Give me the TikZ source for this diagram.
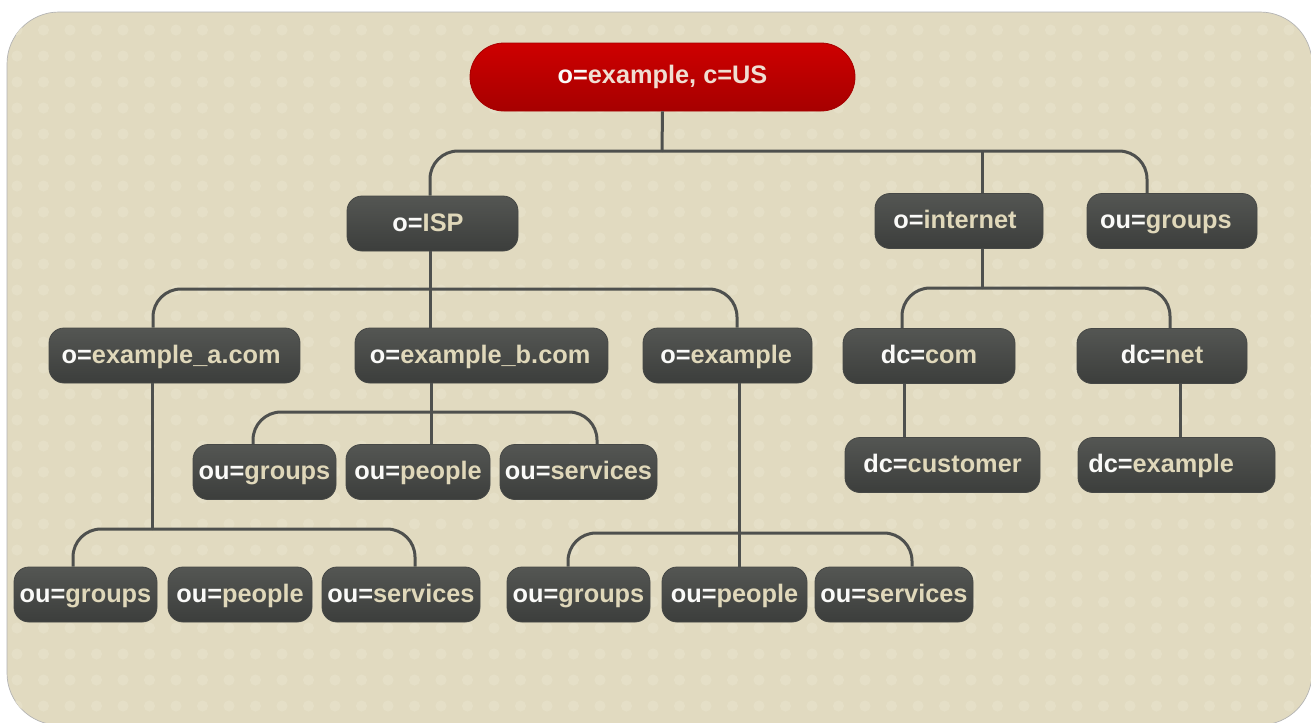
\documentclass[tikz,border=0pt]{standalone}
\usepackage{fontspec}
\setmainfont{Liberation Sans}
\definecolor{bg}{RGB}{225,218,192}
\definecolor{dotc}{RGB}{229,223,199}
\definecolor{boxtop}{RGB}{84,86,83}
\definecolor{boxbot}{RGB}{60,62,60}
\definecolor{boxline}{RGB}{70,72,70}
\definecolor{redtop}{RGB}{206,0,0}
\definecolor{redbot}{RGB}{166,0,0}
\definecolor{conn}{RGB}{78,80,78}
\definecolor{pretxt}{RGB}{250,250,248}
\definecolor{rsttxt}{RGB}{224,216,186}
\definecolor{rootrst}{RGB}{240,222,210}
\newcommand\lbl[2]{\textcolor{pretxt}{#1}\textcolor{rsttxt}{#2}}
\begin{document}
\begin{tikzpicture}[x=0.75pt,y=-0.75pt,
  box/.style={rounded corners=11.25pt, top color=boxtop, bottom color=boxbot,
    draw=boxline, line width=0.6pt, minimum height=41.25pt, inner sep=0pt,
    text height=14pt, text depth=2.75pt,
    font=\fontsize{19}{22}\selectfont\bfseries},
  rootbox/.style={rounded corners=25.5pt, top color=redtop, bottom color=redbot,
    draw=redbot, line width=0.6pt, minimum height=51pt, minimum width=288.75pt,
    inner sep=0pt, text height=14pt, text depth=4pt,
    font=\fontsize{19}{22}\selectfont\bfseries},
  link/.style={draw=conn, line width=2.25pt},
  curvelink/.style={link, rounded corners=21pt}]
\useasboundingbox (0,0) rectangle (1311,722);
\fill[white] (0,0) rectangle (1311,722);
\filldraw[fill=bg, draw=gray!60, line width=0.5pt, rounded corners=39pt] (7,12) rectangle (1312,725);
\begin{scope}
  \clip[rounded corners=39pt] (7,12) rectangle (1312,725);
  \foreach \i in {0,...,49}{\foreach \j in {0,...,27}{
    \fill[dotc] ({17+26.5*\i},{30+26*\j}) circle (4.2pt);}}
\end{scope}

% nodes
\node[rootbox] (root) at (662.5,77) {\textcolor{pretxt}{o=}\textcolor{rootrst}{example, c=US}};
\node[box, minimum width=128.25pt] (isp) at (432.5,223.5) {\lbl{o=}{ISP}\hspace*{6.75pt}};
\node[box, minimum width=126pt] (inet) at (959,221) {\lbl{o=}{internet}\hspace*{6pt}};
\node[box, minimum width=127.5pt] (grpT) at (1172,221) {\lbl{ou=}{groups}\hspace*{9pt}};
\node[box, minimum width=188.25pt] (exa) at (174.5,355.5) {\lbl{o=}{example\_a.com}\hspace*{5pt}};
\node[box, minimum width=189.75pt] (exb) at (481.5,355.5) {\lbl{o=}{example\_b.com}\hspace*{2pt}};
\node[box, minimum width=126.75pt] (ex) at (727.5,355.5) {\lbl{o=}{example}\hspace*{2pt}};
\node[box, minimum width=129pt] (com) at (929,356) {\lbl{dc=}{com}};
\node[box, minimum width=127.5pt] (net) at (1162,356) {\lbl{dc=}{net}};
\node[box, minimum width=146.25pt] (cust) at (942.5,465) {\lbl{dc=}{customer}};
\node[box, minimum width=147.75pt] (dcex) at (1176.5,465) {\lbl{dc=}{example}\hspace*{23pt}};
\node[box, minimum width=107.25pt] (bg) at (264.5,472) {\lbl{ou=}{groups}};
\node[box, minimum width=108pt] (bp) at (418,472) {\lbl{ou=}{people}};
\node[box, minimum width=117.75pt] (bs) at (578.5,472) {\lbl{ou=}{services}};
\node[box, minimum width=107.25pt] (ag) at (85.5,594.5) {\lbl{ou=}{groups}};
\node[box, minimum width=108pt] (ap) at (240,594.5) {\lbl{ou=}{people}};
\node[box, minimum width=118.5pt] (as) at (401,594.5) {\lbl{ou=}{services}};
\node[box, minimum width=107.25pt] (eg) at (578.5,594.5) {\lbl{ou=}{groups}};
\node[box, minimum width=108.75pt] (ep) at (734.5,594.5) {\lbl{ou=}{people}};
\node[box, minimum width=118.5pt] (es) at (894,594.5) {\lbl{ou=}{services}};

% junctions and branch columns
\coordinate (j0) at (662,151);
\coordinate (j0b) at (982,151);
\coordinate (j1) at (430,289);
\coordinate (j2) at (431,412);
\coordinate (j3) at (152,529);
\coordinate (j4) at (739,533);
\coordinate (j5) at (982,288);
\coordinate (xisp) at (430,0);
\coordinate (xgrp) at (1147,0);
\coordinate (xexa) at (153,0);
\coordinate (xex) at (737,0);
\coordinate (xbg) at (253,0);
\coordinate (xbs) at (597,0);
\coordinate (xag) at (73,0);
\coordinate (xas) at (415,0);
\coordinate (xeg) at (568,0);
\coordinate (xes) at (912,0);
\coordinate (xcom) at (902,0);
\coordinate (xnet) at (1170,0);
\coordinate (xcust) at (904,0);
\coordinate (xdcex) at (1180,0);

% connectors
\draw[link] (root.south) -- (j0);
\draw[curvelink] (j0) -| (isp.north -| xisp);
\draw[curvelink] (j0) -| (grpT.north -| xgrp);
\draw[link] (j0b) -- (inet.north -| j0b);
\draw[link] (isp.south -| j1) -- (exb.north -| j1);
\draw[curvelink] (j1) -| (exa.north -| xexa);
\draw[curvelink] (j1) -| (ex.north -| xex);
\draw[link] (exb.south -| j2) -- (bp.north -| j2);
\draw[curvelink] (j2) -| (bg.north -| xbg);
\draw[curvelink] (j2) -| (bs.north -| xbs);
\draw[link] (exa.south -| j3) -- (j3);
\draw[curvelink] (j3) -| (ag.north -| xag);
\draw[curvelink] (j3) -| (as.north -| xas);
\draw[link] (ex.south -| j4) -- (ep.north -| j4);
\draw[curvelink] (j4) -| (eg.north -| xeg);
\draw[curvelink] (j4) -| (es.north -| xes);
\draw[link] (inet.south -| j5) -- (j5);
\draw[curvelink] (j5) -| (com.north -| xcom);
\draw[curvelink] (j5) -| (net.north -| xnet);
\draw[link] (com.south -| xcust) -- (cust.north -| xcust);
\draw[link] (net.south -| xdcex) -- (dcex.north -| xdcex);
\end{tikzpicture}
\end{document}
